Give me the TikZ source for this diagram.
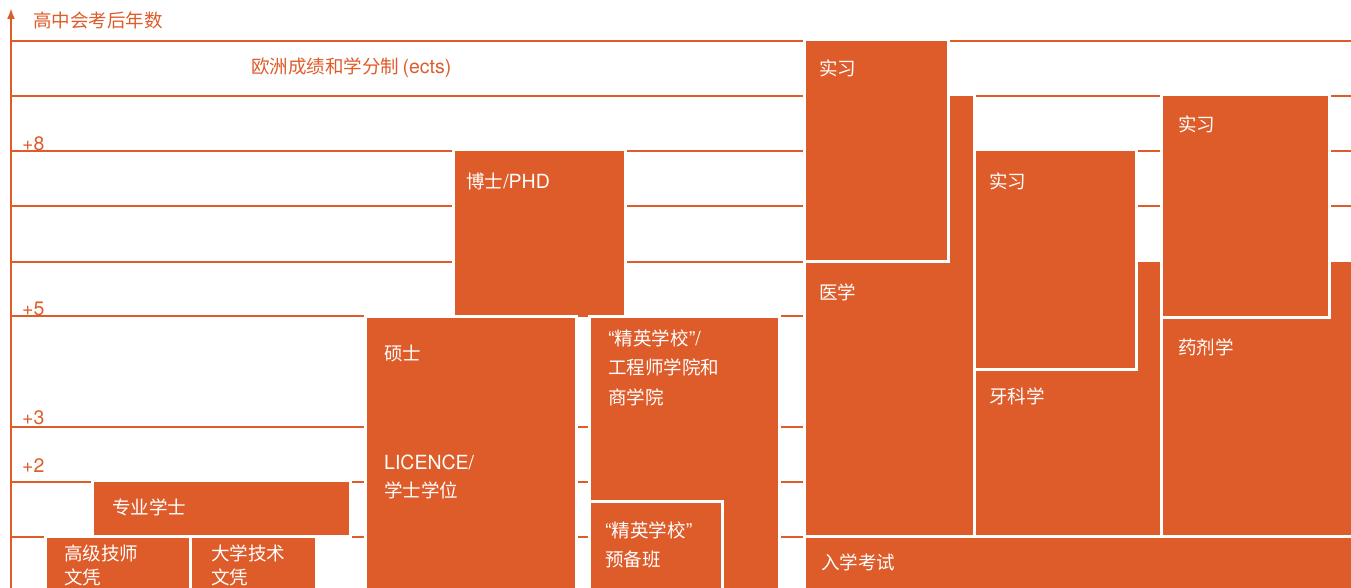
\documentclass[tikz,border=0pt]{standalone}
\usepackage{fontspec}
\setmainfont{TeX Gyre Heros}
\newfontfamily\cjk[Scale=0.95]{Noto Sans CJK SC}
\usepackage{tikz}
\usetikzlibrary{arrows.meta}
\definecolor{frorange}{RGB}{222,91,42}

\begin{document}
\begin{tikzpicture}[x=1pt,y=-1pt,
    every node/.style={inner sep=0pt,anchor=west,font=\fontsize{19.5}{29.5}\selectfont},
    zh/.style={font=\cjk\fontsize{19.5}{29.5}\selectfont},
    yearline/.style={draw=frorange,line width=2pt},
    box/.style={fill=frorange,draw=white,line width=3pt},
    intext/.style={text=white,align=left},
    outtext/.style={text=frorange}]
    \useasboundingbox (0,0) rectangle (1351,588);
    \foreach \y in {41,96,151,206,262,316,427,482,537}
      \draw[yearline] (11,\y) -- (1351,\y);
    % left side
    \draw[box] (453,150) rectangle (625,318);
    \draw[box] (365.5,316.5) rectangle (576.5,595);
    \draw[box] (589.5,316.5) rectangle (779.5,595);
    \draw[box] (589.5,501.5) rectangle (722.5,595);
    \draw[box] (92.5,480.5) rectangle (350.5,536.5);
    \draw[box] (45.5,536.5) rectangle (190.5,595);
    \draw[box] (190.5,536.5) rectangle (316.5,595);
    % right side
    \draw[box] (804.5,94.5) rectangle (974.5,536.5);
    \draw[box] (804.5,39.5) rectangle (948.5,261.5);
    \draw[box] (974.5,260.5) rectangle (1161.5,536.5);
    \draw[box] (974.5,149.5) rectangle (1136.5,369.5);
    \draw[box] (1161.5,260.5) rectangle (1356,536.5);
    \draw[box] (1161.5,94.5) rectangle (1329.5,317.5);
    \draw[box] (804.5,536.5) rectangle (1356,595);
    \draw[frorange,line width=2pt,-{Latex[length=11pt,width=8pt]}] (11,592) -- (11,8);
    % texts
    \node[outtext,zh] (axislabel) at (33,20) {高中会考后年数};
    \node[outtext] (ects) at (251,68) {{\cjk 欧洲成绩和学分制}\,(ects)};
    \foreach \n/\y in {8/144,5/309,3/418,2/466}
      \node[outtext] (year\n) at (22,\y) {+\n};
    \node[intext] (phd) at (466,181) {{\cjk 博士}/PHD};
    \node[intext,zh] (master) at (384,353) {硕士};
    \node[intext] (licence) at (384,477) {LICENCE/\\[-1.5pt]{\cjk 学士学位}};
    \node[intext] (grandeecole) at (608,367.5) {“{\cjk 精英学校}”/\\{\cjk 工程师学院和}\\{\cjk 商学院}};
    \node[intext] (prepa) at (605,545) {“{\cjk 精英学校}”\\{\cjk 预备班}};
    \node[intext,zh] (licencepro) at (112,507) {专业学士};
    \node[intext,zh] (bts) at (64,565) {高级技师\\[-5.5pt]文凭};
    \node[intext,zh] (dut) at (211,565) {大学技术\\[-5.5pt]文凭};
    \node[intext,zh] (medstage) at (819,68) {实习};
    \node[intext,zh] (medicine) at (819,292) {医学};
    \node[intext,zh] (dentstage) at (989,181) {实习};
    \node[intext,zh] (dentistry) at (989,396) {牙科学};
    \node[intext,zh] (pharmstage) at (1178,124) {实习};
    \node[intext,zh] (pharmacy) at (1178,347) {药剂学};
    \node[intext,zh] (concours) at (821,562) {入学考试};
  \end{tikzpicture}
\end{document}
